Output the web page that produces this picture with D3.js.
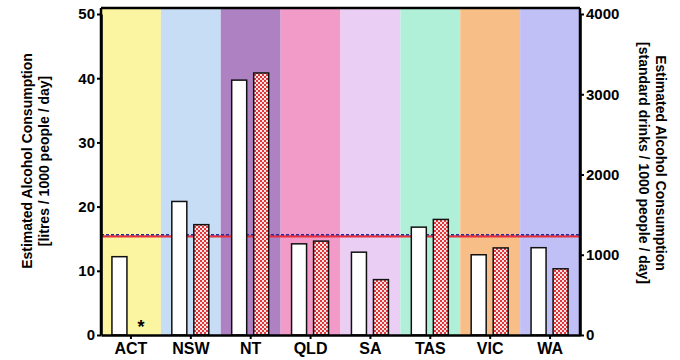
<!DOCTYPE html>
<html><head><meta charset="utf-8">
<script src="https://cdn.jsdelivr.net/npm/d3@7/dist/d3.min.js"></script>
<style>body{margin:0;background:#fff}svg{display:block}text{font-family:"Liberation Sans",Arial,sans-serif;font-weight:bold}</style>
</head><body><svg id="c" width="680" height="360"></svg>
<script>
const categories = ["ACT","NSW","NT","QLD","SA","TAS","VIC","WA"];
const bandColors = ["#fbf5a1","#c7dcf5","#ae82c2","#f39bc8","#ebcef3","#b0f0d9","#f7bf87","#c0c0f7"];
const litres = [12.2, 20.8, 39.7, 14.2, 12.9, 16.8, 12.5, 13.6];          // left axis, white bars
const drinks = [null, 1375, 3265, 1170, 690, 1440, 1085, 825];             // right axis, checkered bars
const meanLitres = 15.6;   // blue dashed line (left axis)
const meanDrinks = 1230;   // red solid line (right axis)
const leftTicks = [0,10,20,30,40,50];
const rightTicks = [0,1000,2000,3000,4000];

const svg = d3.select("#c");
const L = 101, R = 580, B = 335, T = 14, TOP = 8;
const x = d3.scaleBand().domain(categories).range([L, R]);
const yL = d3.scaleLinear().domain([0,50]).range([B, T]);
const yR = d3.scaleLinear().domain([0,4000]).range([B, T]);

const defs = svg.append("defs");
const pat = defs.append("pattern").attr("id","chk").attr("patternUnits","userSpaceOnUse")
  .attr("width",4).attr("height",4);
pat.append("rect").attr("width",4).attr("height",4).attr("fill","#fbe4e4");
pat.append("rect").attr("width",2).attr("height",2).attr("fill","#e0353a");
pat.append("rect").attr("x",2).attr("y",2).attr("width",2).attr("height",2).attr("fill","#e0353a");

// background bands
svg.selectAll("rect.band").data(categories).join("rect").attr("class","band")
  .attr("x", d => x(d)).attr("y", TOP).attr("width", x.bandwidth()).attr("height", B - TOP)
  .attr("fill", (d,i) => bandColors[i]);

// mean lines
svg.append("line").attr("x1",L).attr("x2",R).attr("y1",yR(meanDrinks)).attr("y2",yR(meanDrinks))
  .attr("stroke","#e8303c").attr("stroke-width",2.2);
svg.append("line").attr("x1",L).attr("x2",R).attr("y1",yL(meanLitres)).attr("y2",yL(meanLitres))
  .attr("stroke","#2a2a9c").attr("stroke-width",1.5).attr("stroke-dasharray","3,2");

const bw = 15;
const cx = d => x(d) + x.bandwidth()/2;
// white bars
svg.selectAll("rect.w").data(categories).join("rect").attr("class","w")
  .attr("x", d => cx(d) - 19).attr("width", bw)
  .attr("y", (d,i) => yL(litres[i])).attr("height", (d,i) => B - yL(litres[i]))
  .attr("fill","#fff").attr("stroke","#111").attr("stroke-width",1.5);
// checkered bars
const redData = categories.map((c,i)=>({c, v: drinks[i]}));
svg.selectAll("rect.r").data(redData.filter(d => d.v != null)).join("rect").attr("class","r")
  .attr("x", d => cx(d.c) + 3).attr("width", bw)
  .attr("y", d => yR(d.v)).attr("height", d => B - yR(d.v))
  .attr("fill","url(#chk)").attr("stroke","#111").attr("stroke-width",1.5);
// asterisk for missing
svg.selectAll("text.ast").data(redData.filter(d => d.v == null)).join("text").attr("class","ast")
  .attr("x", d => cx(d.c) + 10).attr("y", B - 2).attr("text-anchor","middle")
  .attr("font-size",18).text("*");

// frame top
svg.append("line").attr("x1",L).attr("x2",R).attr("y1",TOP).attr("y2",TOP).attr("stroke","#000").attr("stroke-width",2.5);

// axes
const styleAxis = g => {
  g.selectAll(".domain").attr("stroke","#000").attr("stroke-width",2.5);
  g.selectAll(".tick line").attr("stroke","#000").attr("stroke-width",2);
  g.selectAll(".tick text").attr("font-size",15).attr("fill","#000");
};
svg.append("g").attr("transform",`translate(${L},0)`)
  .call(d3.axisLeft(yL).tickValues(leftTicks).tickSize(4).tickPadding(2).tickSizeOuter(0).tickFormat(d3.format("d")))
  .call(styleAxis);
svg.append("g").attr("transform",`translate(${R},0)`)
  .call(d3.axisRight(yR).tickValues(rightTicks).tickSize(4).tickPadding(2).tickSizeOuter(0).tickFormat(d3.format("d")))
  .call(styleAxis);
svg.append("g").attr("transform",`translate(0,${B})`)
  .call(d3.axisBottom(x).tickSize(4).tickPadding(4).tickSizeOuter(0))
  .call(styleAxis)
  .call(g => g.selectAll(".tick text").attr("font-size",16));
// extend vertical axis lines up to frame top
svg.append("line").attr("x1",L).attr("x2",L).attr("y1",TOP).attr("y2",B).attr("stroke","#000").attr("stroke-width",2.5);
svg.append("line").attr("x1",R).attr("x2",R).attr("y1",TOP).attr("y2",B).attr("stroke","#000").attr("stroke-width",2.5);

// titles
const lt = svg.append("text").attr("transform","translate(32,161) rotate(-90)")
  .attr("text-anchor","middle").attr("font-size",14).attr("fill","#000");
lt.append("tspan").attr("x",0).attr("dy",0).text("Estimated Alcohol Consumption");
lt.append("tspan").attr("x",0).attr("dy",17).text("[litres / 1000 people / day]");
const rt = svg.append("text").attr("transform","translate(656,163) rotate(90)")
  .attr("text-anchor","middle").attr("font-size",14).attr("fill","#000");
rt.append("tspan").attr("x",0).attr("dy",0).text("Estimated Alcohol Consumption");
rt.append("tspan").attr("x",0).attr("dy",17).text("[standard drinks / 1000 people / day]");
</script></body></html>
